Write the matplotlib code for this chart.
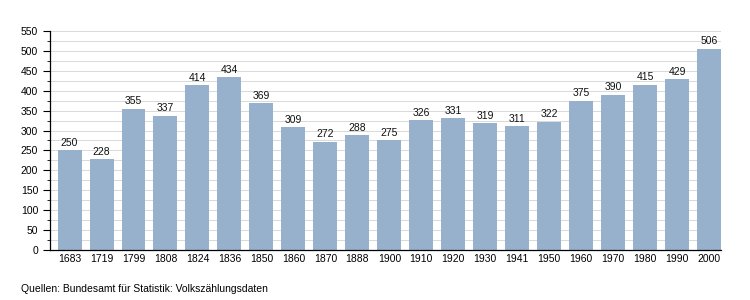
import matplotlib
matplotlib.use("Agg")
import matplotlib.pyplot as plt
import numpy as np

# Daten: Einwohnerentwicklung
jahre = ["1683", "1719", "1799", "1808", "1824", "1836", "1850", "1860", "1870", "1888",
         "1900", "1910", "1920", "1930", "1941", "1950", "1960", "1970", "1980", "1990", "2000"]
einwohner = [250, 228, 355, 337, 414, 434, 369, 309, 272, 288,
             275, 326, 331, 319, 311, 322, 375, 390, 415, 429, 506]

FARBE_BALKEN = "#97b1cc"
FARBE_GRID = "#d9d9d9"

plt.rcParams["font.family"] = ["Liberation Sans", "DejaVu Sans"]

fig = plt.figure(figsize=(7.5, 3), dpi=100)
ax = fig.add_axes([0.0667, 0.1667, 0.8946, 0.73])

x = np.arange(len(jahre))
bars = ax.bar(x, einwohner, width=0.75, color=FARBE_BALKEN, zorder=2)

for bar, val in zip(bars, einwohner):
    ax.text(bar.get_x() + bar.get_width() / 2, val + 6, str(val),
            ha="center", va="bottom", fontsize=7.5, color="#111111")

ax.set_xticks(x)
ax.set_xticklabels(jahre, fontsize=7.5)
ax.set_xlim(-0.61, 20.37)
ax.set_ylim(0, 550)
ax.set_yticks(np.arange(0, 551, 50))
ax.set_yticks(np.arange(0, 551, 25), minor=True)
ax.tick_params(axis="y", labelsize=7.5, length=5, width=0.8, direction="out")
ax.tick_params(axis="y", which="minor", length=2, width=0.6)
ax.tick_params(axis="x", length=0, pad=3)
ax.grid(axis="y", which="both", color=FARBE_GRID, linewidth=0.7, zorder=0)
ax.set_axisbelow(True)

for s in ("top", "right"):
    ax.spines[s].set_visible(False)
ax.spines["left"].set_linewidth(0.9)
ax.spines["bottom"].set_linewidth(0.9)

fig.text(0.028, 0.037, "Quellen: Bundesamt für Statistik: Volkszählungsdaten",
         fontsize=7.5, ha="left", va="center")

fig.savefig("out.png", dpi=100)
